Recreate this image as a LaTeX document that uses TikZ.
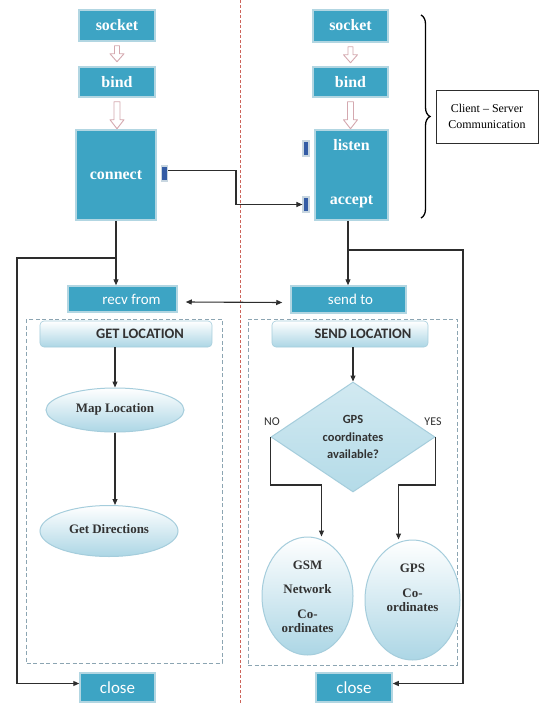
\documentclass[tikz,border=0pt]{standalone}
\usepackage{fontspec}
\setmainfont{Liberation Serif}
\newfontfamily\calib{Carlito}
\usetikzlibrary{arrows.meta,shapes.geometric,decorations.pathreplacing,calc}
\definecolor{boxblue}{RGB}{61,164,196}
\definecolor{boxedge}{RGB}{178,214,226}
\definecolor{tabblue}{RGB}{52,92,165}
\definecolor{tabedge}{RGB}{200,214,224}
\definecolor{lightb}{RGB}{172,214,229}
\definecolor{difill}{RGB}{180,219,232}
\definecolor{elledge}{RGB}{165,205,220}
\definecolor{dashc}{RGB}{140,165,178}
\definecolor{redc}{RGB}{205,100,90}
\definecolor{linec}{RGB}{45,45,45}
\definecolor{hollowc}{RGB}{212,168,175}
\definecolor{hdrtext}{RGB}{50,50,50}
\begin{document}
\begin{tikzpicture}[x=1bp,y=-1bp,
  >={Triangle[length=6bp,width=5bp]},
  sbox/.style={rectangle, fill=boxblue, draw=boxedge, line width=1.5bp, inner sep=0pt},
  serifw/.style={inner sep=0pt, text=white, font=\fontsize{16}{18}\selectfont\bfseries},
  sansw/.style={inner sep=0pt, text=white, font=\calib\fontsize{15}{17}\selectfont},
  tab/.style={rectangle, fill=tabblue, draw=tabedge, line width=1.2bp, minimum width=6bp, minimum height=15bp, inner sep=0pt},
  conn/.style={draw=linec, line width=1.1bp},
  hollow/.style={draw=hollowc, fill=white, line width=0.9bp, line join=round},
  dashbox/.style={rectangle, draw=dashc, line width=1bp, dash pattern=on 4bp off 2.5bp, inner sep=0pt},
  hdr/.style={rectangle, rounded corners=4bp, top color=white, bottom color=lightb, draw=elledge, line width=0.6bp, inner sep=0pt},
  hdrtxt/.style={inner sep=0pt, text=hdrtext, font=\calib\bfseries\fontsize{14.5}{16}\selectfont},
  ell/.style={ellipse, top color=white, bottom color=lightb, draw=elledge, line width=1bp, inner sep=0pt},
  elltxt/.style={inner sep=0pt, align=center, text=hdrtext, font=\fontsize{13}{14}\selectfont\bfseries},
]
\useasboundingbox (0,0) rectangle (540,704);
\fill[white] (0,0) rectangle (540,704);

% centre divider
\draw[redc, line width=0.8bp, dash pattern=on 3bp off 2bp] (240,0) -- (240,704);

% dashed regions
\node[dashbox, minimum width=195bp, minimum height=344bp] (regL) at (124.5,491) {};
\node[dashbox, minimum width=209bp, minimum height=346bp] (regR) at (352.5,492) {};

% client side boxes
\node[sbox, minimum width=76bp, minimum height=31bp] (socketL) at (117,25.5) {};
\node[serifw] (socketLt) at (117,25) {socket};
\node[sbox, minimum width=76bp, minimum height=30bp] (bindL) at (117,82) {};
\node[serifw] (bindLt) at (117,82) {bind};
\node[sbox, minimum width=80bp, minimum height=90bp] (connect) at (116,175) {};
\node[serifw] (connectt) at (116,175) {connect};
\node[tab] (tabL) at (164.5,173.5) {};

% server side boxes
\node[sbox, minimum width=75bp, minimum height=32bp] (socketR) at (350.5,26) {};
\node[serifw] (socketRt) at (350.5,25) {socket};
\node[sbox, minimum width=75bp, minimum height=30bp] (bindR) at (350.5,82) {};
\node[serifw] (bindRt) at (350.5,82) {bind};
\node[sbox, minimum width=73bp, minimum height=90bp] (server) at (351.5,175) {};
\node[serifw] (listent) at (351.5,145) {listen};
\node[serifw] (acceptt) at (351.5,202) {accept};
\node[tab] (tabLi) at (306,148.5) {};
\node[tab] (tabAc) at (306,204.5) {};

% hollow arrows
\draw[hollow] ([yshift=-4bp]socketL.south) ++(-2.5,0) -- ++(0,8) -- ++(-4.5,0) -- ++(7,8) -- ++(7,-8) -- ++(-4.5,0) -- ++(0,-8) -- cycle;
\draw[hollow] ([yshift=-4bp]bindL.south) ++(-3,0) -- ++(0,18) -- ++(-4,0) -- ++(7,9) -- ++(7,-9) -- ++(-4,0) -- ++(0,-18) -- cycle;
\draw[hollow] ([yshift=-4bp]socketR.south) ++(-2.5,0) -- ++(0,8) -- ++(-4.5,0) -- ++(7,8) -- ++(7,-8) -- ++(-4.5,0) -- ++(0,-8) -- cycle;
\draw[hollow] ([yshift=-4bp]bindR.south) ++(-3,0) -- ++(0,18) -- ++(-4,0) -- ++(7,9) -- ++(7,-9) -- ++(-4,0) -- ++(0,-18) -- cycle;

% connect -> accept
\draw[conn,->] ([yshift=3bp]tabL.east) -| (236,190) |- (tabAc.west);

% brace and label
\draw[line width=1.3bp, decorate, decoration={brace, amplitude=9bp}] (421,15) -- (421,218);
\node[draw=linec, line width=0.7bp, minimum width=102bp, minimum height=53bp, inner sep=0pt, align=center, font=\fontsize{12}{16}\selectfont] (csbox) at (487,116.5) {Client -- Server\\Communication};

% recv / send
\node[sbox, minimum width=109bp, minimum height=26bp] (recv) at (122.5,299) {};
\node[sansw] (recvt) at (131.5,299) {recv from};
\node[sbox, minimum width=115bp, minimum height=27bp] (send) at (348.5,299.5) {};
\node[sansw] (sendt) at (350.5,299.5) {send to};
\draw[conn,<->] ([shift={(8bp,-3bp)}]recv.east) -- ([shift={(-8bp,-3bp)}]send.west);

% close boxes
\node[sbox, minimum width=75bp, minimum height=29bp] (closeL) at (117.5,687.5) {};
\node[sansw, font=\calib\fontsize{17}{19}\selectfont] (closeLt) at (117.5,687.5) {close};
\node[sbox, minimum width=76bp, minimum height=29bp] (closeR) at (354,687.5) {};
\node[sansw, font=\calib\fontsize{17}{19}\selectfont] (closeRt) at (354,687.5) {close};

% trunk lines
\coordinate (jL) at (116,258);
\coordinate (cL) at (17,258);
\draw[conn,->] (connect.south) -- (connect.south |- recv.north);
\draw[conn,->] (jL) -- (cL) |- ([yshift=4bp]closeL.west);
\coordinate (jR) at (348,250);
\coordinate (cR) at (463,250);
\draw[conn,->] (jR |- server.south) -- (jR |- send.north);
\draw[conn,->] (jR) -- (cR) |- ([yshift=4bp]closeR.east);

% headers
\node[hdr, minimum width=172bp, minimum height=26bp] (getlocbox) at (126,334) {};
\node[hdrtxt] (getloc) at (140,334) {GET LOCATION};
\node[hdr, minimum width=156bp, minimum height=26bp] (sendlocbox) at (350,334) {};
\node[hdrtxt] (sendloc) at (363,334) {SEND LOCATION};

% left column
\node[ell, minimum width=138bp, minimum height=44bp] (mapL) at (115,410) {};
\node[elltxt] (mapLt) at (115,409) {Map Location};
\node[ell, minimum width=138bp, minimum height=51bp] (getdir) at (109,531) {};
\node[elltxt] (getdirt) at (109,529) {Get Directions};
\draw[conn,->] (mapL.north |- getlocbox.south) -- (mapL.north);
\draw[conn,->] (mapL.south) -- (mapL.south |- getdir.north);

% right column
\node[diamond, top color=white!40!difill, bottom color=difill, draw=elledge, line width=1bp, minimum width=164bp, minimum height=110bp, inner sep=0pt, aspect=1.5, align=center, text=hdrtext, font=\calib\bfseries\fontsize{12.5}{17.5}\selectfont] (dia) at (353,437) {GPS\\coordinates\\available?};
\draw[conn,->] (dia.north |- sendlocbox.south) -- (dia.north);
\node[inner sep=0pt, text=hdrtext, font=\calib\fontsize{12}{14}\selectfont] (no) at (272,422) {NO};
\node[inner sep=0pt, text=hdrtext, font=\calib\fontsize{12}{14}\selectfont] (yes) at (433,422) {YES};

\node[ell, minimum width=91bp, minimum height=118bp] (gsm) at (307.5,596) {};
\node[elltxt] (gsmt) at (307.5,597) {GSM\\[10bp]Network\\[11bp]Co-\\ordinates};
\node[ell, minimum width=95bp, minimum height=120bp] (gps) at (412.5,600) {};
\node[elltxt] (gpst) at (412.5,588) {GPS\\[11bp]Co-\\ordinates};
\draw[conn,->] (dia.west) -- ++(0,48) -| ([xshift=14bp]gsm.north);
\draw[conn,->] (dia.east) -- ++(0,48) -| ([xshift=-14bp]gps.north);
\end{tikzpicture}
\end{document}
